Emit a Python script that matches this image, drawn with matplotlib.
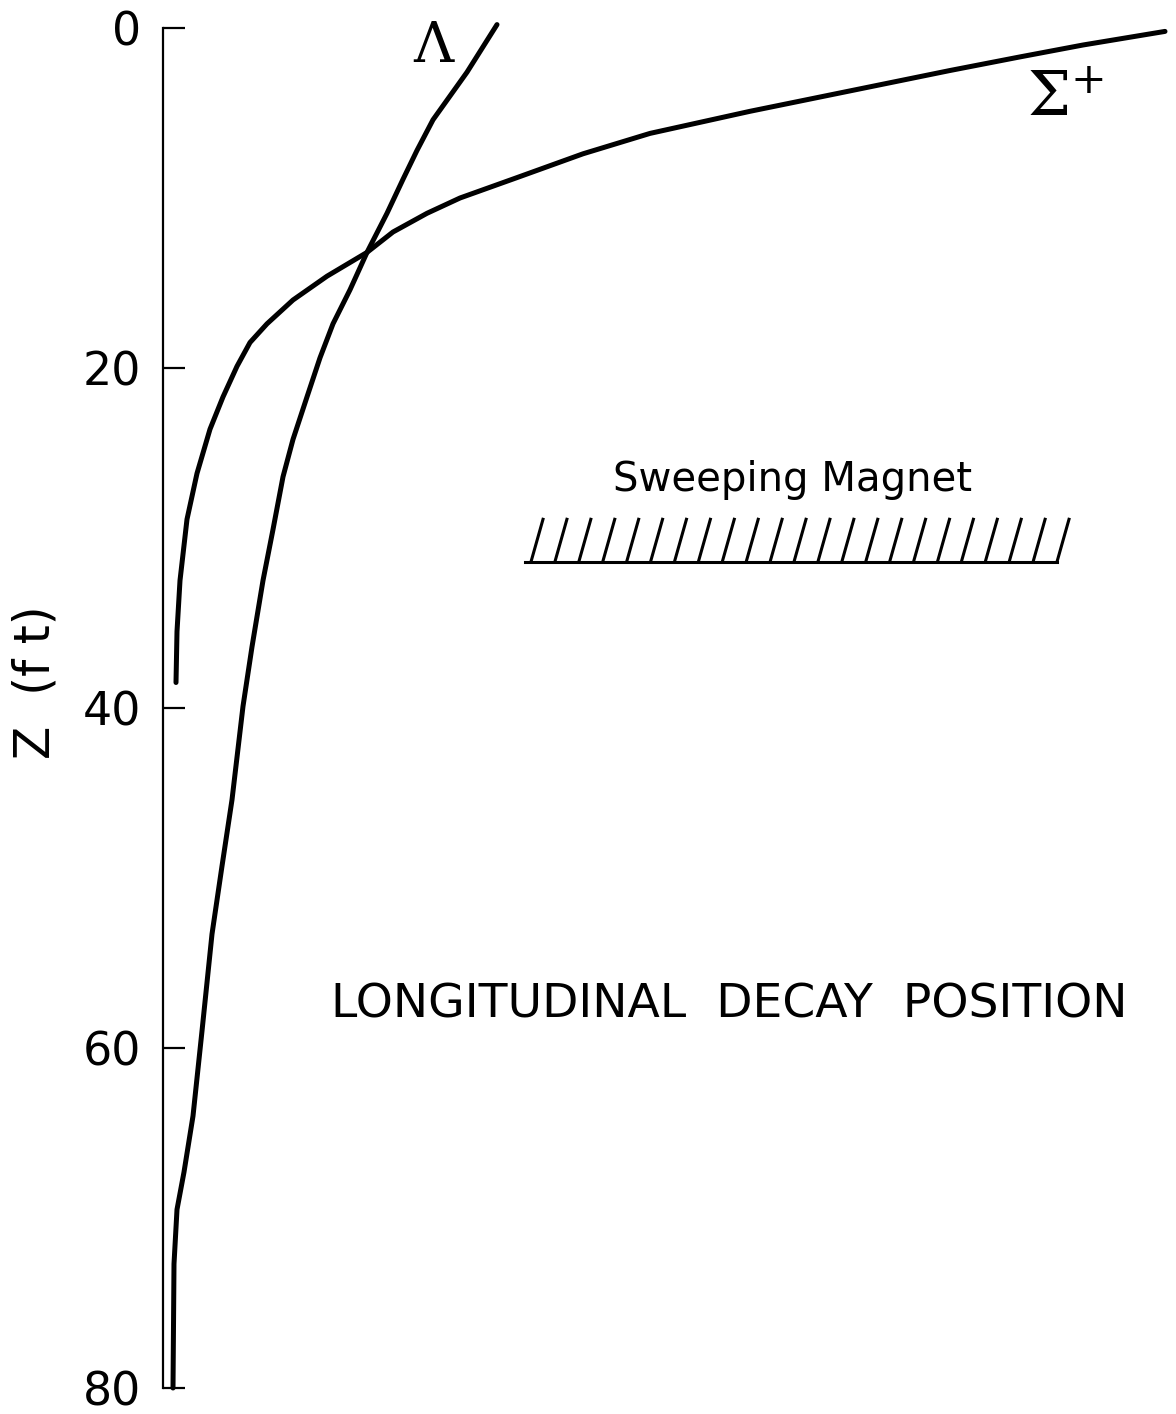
import numpy as np
import matplotlib
matplotlib.use("Agg")
import matplotlib.pyplot as plt

# relative counts (arbitrary units) vs longitudinal position z (ft)
lam_x = [33.4, 30.4, 27.0, 25.4, 24.0, 22.4, 20.4, 18.7, 17.0, 15.7, 14.4, 13.0,
         12.0, 11.0, 10.0, 8.9, 8.0, 6.9, 5.9, 4.9, 3.9, 3.0, 2.1, 1.4, 1.1, 1.0]
lam_z = [-0.2, 2.6, 5.4, 7.2, 8.9, 10.9, 13.2, 15.4, 17.4, 19.4, 21.7, 24.2,
         26.4, 29.5, 32.5, 36.4, 39.9, 45.4, 49.3, 53.3, 59.0, 64.0, 67.3, 69.5, 72.7, 80.0]

sig_x = [100.2, 92.0, 85.7, 78.7, 73.7, 68.7, 58.7, 48.7, 42.0, 35.4, 29.7, 26.4,
         23.0, 20.4, 16.4, 13.0, 10.4, 8.7, 7.4, 6.0, 4.7, 3.4, 2.4, 1.7, 1.4, 1.3]
sig_z = [0.2, 1.0, 1.7, 2.5, 3.1, 3.7, 4.9, 6.2, 7.4, 8.8, 10.0, 10.9,
         12.0, 13.2, 14.6, 16.0, 17.4, 18.5, 19.9, 21.7, 23.6, 26.2, 28.9, 32.5, 35.5, 38.5]

z_ticks = [0, 20, 40, 60, 80]

# sweeping magnet extent (x range, z of top/bottom of hatching)
magnet_x = (36.2, 89.4)
magnet_z = (28.9, 31.4)
n_hatch = 23

plt.rcParams["font.family"] = ["DejaVu Sans"]

fig = plt.figure(figsize=(11.76, 14.14), dpi=100)
ax = fig.add_axes([163 / 1176, 26 / 1414, 1013 / 1176, 1360 / 1414])
ax.set_xlim(0, 101.3)
ax.set_ylim(80, 0)

ax.plot(lam_x, lam_z, color="black", lw=3.6, solid_capstyle="round",
        solid_joinstyle="round", clip_on=False)
ax.plot(sig_x, sig_z, color="black", lw=3.6, solid_capstyle="round",
        solid_joinstyle="round", clip_on=False)

for s in ("top", "right", "bottom"):
    ax.spines[s].set_visible(False)
ax.spines["left"].set_linewidth(1.6)
ax.set_xticks([])
ax.set_yticks(z_ticks)
ax.set_yticklabels([str(t) for t in z_ticks])
ax.tick_params(axis="y", direction="in", length=16, width=1.6, pad=16, labelsize=33)

fig.text(35 / 1176, 1 - 682 / 1414, "Z  (f t)", rotation=90, fontsize=35,
         ha="center", va="center")

ax.text(27.0, 1.1, "Λ", family="DejaVu Serif", fontsize=40, ha="center", va="center")
ax.text(90.3, 4.2, r"$\Sigma^{+}$", math_fontfamily="dejavuserif", fontsize=44,
        ha="center", va="center")

ax.text(63.0, 26.6, "Sweeping Magnet", fontsize=29, ha="center", va="center")

# magnet hatching
ax.plot(magnet_x, [magnet_z[1]] * 2, color="black", lw=2.2)
hx = np.linspace(magnet_x[0] + 0.6, magnet_x[1], n_hatch)
for x0 in hx:
    ax.plot([x0, x0 + 1.2], [magnet_z[1], magnet_z[0]], color="black", lw=2.2)

ax.text(56.6, 57.5, "LONGITUDINAL  DECAY  POSITION", fontsize=34,
        ha="center", va="center")

fig.savefig("out.png", dpi=100, facecolor="white")
